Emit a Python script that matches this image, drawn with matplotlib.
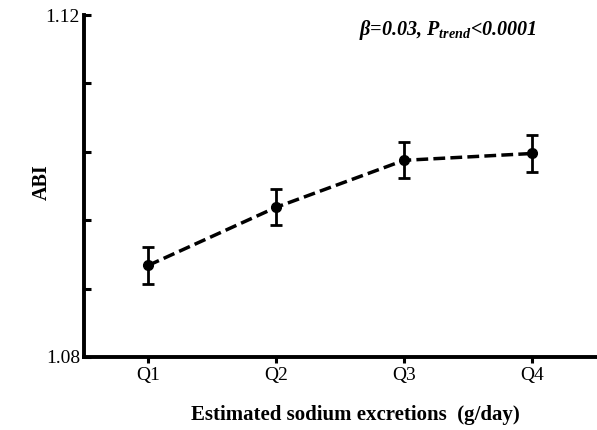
import numpy as np
import matplotlib.pyplot as plt

plt.rcParams['font.family'] = 'Liberation Serif'
plt.rcParams['mathtext.fontset'] = 'custom'
plt.rcParams['mathtext.rm'] = 'Liberation Serif:bold:italic'
plt.rcParams['mathtext.it'] = 'Liberation Serif:bold:italic'
plt.rcParams['mathtext.bf'] = 'Liberation Serif:bold:italic'

# ABI by quartile of estimated sodium excretion
quartiles = ['Q1', 'Q2', 'Q3', 'Q4']
abi_mean = [1.0907, 1.0975, 1.1030, 1.1038]
abi_err = [0.0022, 0.0021, 0.0021, 0.0022]
y_ticks = [1.08, 1.088, 1.096, 1.104, 1.112, 1.12]
y_ticklabels = ['1.08', '', '', '', '', '1.12']

fig = plt.figure(figsize=(5.97, 4.30), dpi=100)
ax = fig.add_axes([0.141, 0.170, 0.857, 0.795])

x = np.arange(1, len(quartiles) + 1)
ax.errorbar(x, abi_mean, yerr=abi_err, fmt='o', color='black', ms=7,
            ecolor='black', elinewidth=2, capsize=4.5, capthick=2)
ax.plot(x, abi_mean, color='black', lw=2.5, dashes=(3.4, 1.5))

ax.set_xlim(0.5, 4.5)
ax.set_ylim(1.08, 1.12)
ax.set_xticks(x)
ax.set_xticklabels(quartiles)
ax.set_yticks(y_ticks)
ax.set_yticklabels(y_ticklabels)

for side in ['top', 'right']:
    ax.spines[side].set_visible(False)
for side in ['left', 'bottom']:
    ax.spines[side].set_linewidth(2.8)
ax.tick_params(axis='x', width=2.2, length=4, labelsize=14, pad=3)
ax.tick_params(axis='y', direction='in', width=2.2, length=5, labelsize=14, pad=3)

ax.set_ylabel('ABI', fontsize=14.5, fontweight='bold')
ax.yaxis.set_label_coords(-0.063, 0.51)
ax.set_xlabel('Estimated sodium excretions  (g/day)', fontsize=15,
              fontweight='bold')
ax.xaxis.set_label_coords(0.53, -0.14)

ax.text(0.71, 0.955, r'$\beta$=0.03, $P_{trend}$<0.0001', transform=ax.transAxes,
        ha='center', va='center', fontsize=14.5, fontweight='bold', style='italic')

fig.savefig('out.png', dpi=100)
